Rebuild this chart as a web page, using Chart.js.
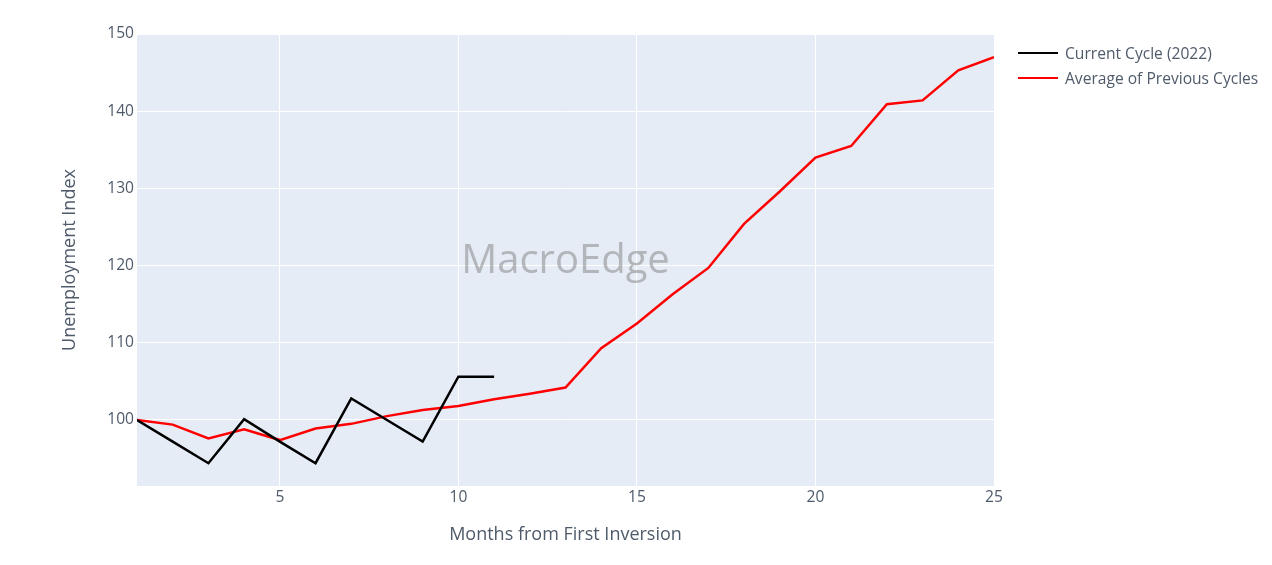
<!DOCTYPE html>
<html>
<head>
<meta charset="utf-8">
<script src="https://cdn.jsdelivr.net/npm/chart.js@4.4.0/dist/chart.umd.min.js"></script>
<style>
  body { margin: 0; background: #fff; font-family: "Open Sans", sans-serif; }
  #wrap { position: relative; width: 1272px; height: 565px; }
  #legend { position: absolute; left: 1018px; top: 40px; font-size: 15.6px; color: #4f5b6b; }
  #legend .item { display: flex; align-items: center; height: 25px; }
  #legend .swatch { width: 40px; height: 0; border-top: 2.5px solid; margin-right: 7px; }
</style>
</head>
<body>
<div id="wrap">
  <canvas id="chart" width="1272" height="565"></canvas>
  <div id="legend"></div>
</div>
<script>
var months = [1, 2, 3, 4, 5, 6, 7, 8, 9, 10, 11, 12, 13, 14, 15, 16, 17, 18, 19, 20, 21, 22, 23, 24, 25];
var currentCycle = [100, 97.2, 94.4, 100.1, 97.2, 94.4, 102.8, 100.0, 97.2, 105.6, 105.6];
var previousAvg = [100, 99.4, 97.6, 98.8, 97.4, 98.9, 99.5, 100.5, 101.3, 101.8, 102.7, 103.4, 104.2,
  109.3, 112.5, 116.3, 119.7, 125.4, 129.6, 134.0, 135.5, 140.9, 141.4, 145.3, 147.0];
var seriesNames = ["Current Cycle (2022)", "Average of Previous Cycles"];
var seriesColors = ["#000000", "#ff0000"];
var xTicks = [5, 10, 15, 20, 25];
var yTicks = [100, 110, 120, 130, 140, 150];

function pts(vals) {
  return vals.map(function (v, i) { return { x: months[i], y: v }; });
}

var txt = "#4f5b6b";
var watermark = {
  id: "watermark",
  beforeDatasetsDraw: function (chart) {
    var a = chart.chartArea, c = chart.ctx;
    c.save();
    c.font = "40px 'Open Sans'";
    c.fillStyle = "rgba(128,128,128,0.5)";
    c.textAlign = "center";
    c.textBaseline = "middle";
    c.fillText("MacroEdge", (a.left + a.right) / 2, 262);
    c.restore();
  }
};
var plotBg = {
  id: "plotBg",
  beforeDraw: function (chart) {
    var a = chart.chartArea, c = chart.ctx;
    c.save();
    c.fillStyle = "#e5ecf6";
    c.fillRect(a.left, a.top, a.right - a.left, a.bottom - a.top);
    c.restore();
  }
};

Chart.defaults.font.family = "'Open Sans', sans-serif";
Chart.defaults.color = txt;

new Chart(document.getElementById("chart"), {
  type: "line",
  data: {
    datasets: [
      { label: seriesNames[0], data: pts(currentCycle), borderColor: seriesColors[0], borderWidth: 2.5, pointRadius: 0, tension: 0, fill: false },
      { label: seriesNames[1], data: pts(previousAvg), borderColor: seriesColors[1], borderWidth: 2.5, pointRadius: 0, tension: 0, fill: false }
    ]
  },
  options: {
    responsive: false,
    animation: false,
    layout: { padding: { left: 0, top: 34, right: 278, bottom: 0 } },
    plugins: { legend: { display: false }, tooltip: { enabled: false } },
    scales: {
      x: {
        type: "linear", min: 1, max: 25,
        ticks: { stepSize: 5, padding: 2, font: { size: 15.6 }, color: txt },
        afterBuildTicks: function (s) { s.ticks = xTicks.map(function (v) { return { value: v }; }); },
        afterFit: function (s) { s.height = 79; },
        grid: { color: "#ffffff", lineWidth: 1, drawTicks: false },
        border: { display: false },
        title: { display: true, text: "Months from First Inversion", font: { size: 18 }, color: txt, padding: { bottom: 19 } }
      },
      y: {
        min: 91.45, max: 150,
        ticks: { stepSize: 10, padding: 3, font: { size: 15.6 }, color: txt },
        afterBuildTicks: function (s) { s.ticks = yTicks.map(function (v) { return { value: v }; }); },
        afterFit: function (s) { s.width = 137; },
        grid: { color: "#ffffff", lineWidth: 1, drawTicks: false },
        border: { display: false },
        title: { display: true, text: "Unemployment Index", font: { size: 18 }, color: txt, padding: { top: 59 } }
      }
    }
  },
  plugins: [plotBg, watermark]
});

var lg = document.getElementById("legend");
seriesNames.forEach(function (n, i) {
  var d = document.createElement("div");
  d.className = "item";
  d.innerHTML = '<span class="swatch" style="border-color:' + seriesColors[i] + '"></span><span>' + n + "</span>";
  lg.appendChild(d);
});
</script>
</body>
</html>
